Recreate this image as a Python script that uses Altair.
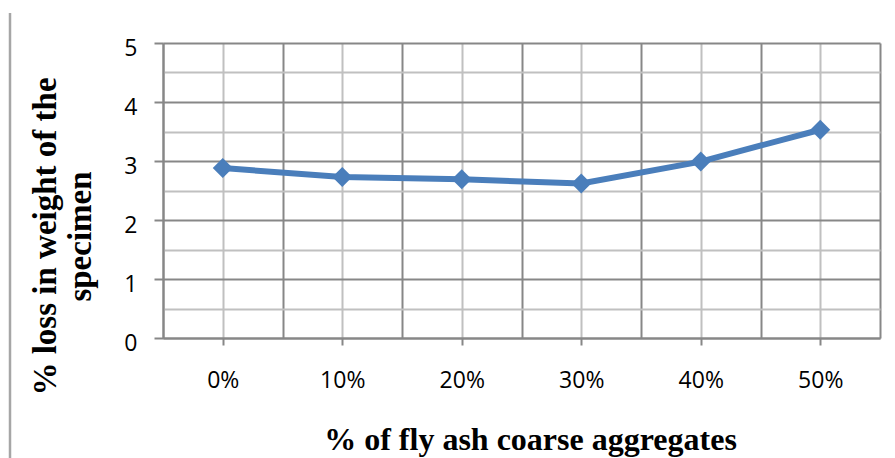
import altair as alt
import pandas as pd

categories = ["0%", "10%", "20%", "30%", "40%", "50%"]
positions = [0, 1, 2, 3, 4, 5]
loss = [2.88, 2.73, 2.69, 2.62, 2.99, 3.53]

x_ticks = [-0.5, 0, 0.5, 1, 1.5, 2, 2.5, 3, 3.5, 4, 4.5, 5, 5.5]
y_ticks = [0, 0.5, 1, 1.5, 2, 2.5, 3, 3.5, 4, 4.5, 5]

df = pd.DataFrame({"pos": positions, "cat": categories, "loss": loss})

DARK = "#878787"
LIGHT = "#c0c0c0"
cat_js = "[" + ",".join("'" + c + "'" for c in categories) + "]"

x_axis = alt.Axis(
    values=x_ticks,
    title="% of fly ash coarse aggregates",
    titleFont="Liberation Serif",
    titleFontSize=32,
    titleFontWeight="bold",
    titleColor="#000000",
    titleAlign="center",
    titleBaseline="alphabetic",
    titleX=367,
    titleY=111,
    labelExpr="datum.value % 1 === 0 ? " + cat_js + "[datum.value] : ''",
    labelFont="Open Sans",
    labelFontSize=23,
    labelColor="#000000",
    labelBaseline="alphabetic",
    labelPadding=42,
    labelFlush=False,
    labelOverlap=False,
    tickSize=7,
    tickWidth=2,
    tickColor={"condition": {"test": "datum.value % 1 !== 0", "value": "transparent"}, "value": DARK},
    grid=True,
    gridColor={"condition": {"test": "datum.value % 1 !== 0", "value": DARK}, "value": LIGHT},
    gridWidth=2,
    domainColor=DARK,
    domainWidth=2,
)

y_axis = alt.Axis(
    values=y_ticks,
    title=["% loss in weight of the", "specimen"],
    titleFont="Liberation Serif",
    titleFontSize=33,
    titleFontWeight="bold",
    titleColor="#000000",
    titleAngle=-90,
    titleAlign="center",
    titleBaseline="alphabetic",
    titleLineHeight=35,
    titleX=-108,
    titleY=193,
    labelExpr="datum.value % 1 === 0 ? datum.value : ''",
    labelFont="Open Sans",
    labelFontSize=23,
    labelColor="#000000",
    labelBaseline="middle",
    labelOffset=5,
    labelPadding=17,
    labelOverlap=False,
    labelFlush=False,
    tickSize=9,
    tickWidth=2,
    tickColor={"condition": {"test": "datum.value % 1 !== 0", "value": "transparent"}, "value": DARK},
    grid=True,
    gridColor={"condition": {"test": "datum.value % 1 === 0", "value": DARK}, "value": LIGHT},
    gridWidth=2,
    domainColor=DARK,
    domainWidth=2,
)

base = alt.Chart(df).encode(
    x=alt.X("pos:Q", scale=alt.Scale(domain=[-0.5, 5.5], nice=False, zero=False), axis=x_axis),
    y=alt.Y("loss:Q", scale=alt.Scale(domain=[0, 5], nice=False), axis=y_axis),
)

line = base.mark_line(color="#4a7ebb", strokeWidth=6)
points = base.mark_point(shape="diamond", filled=True, size=400, color="#4a7ebb", opacity=1)

border = alt.Chart(pd.DataFrame({"a": [0]})).mark_rule(color="#a6a6a6", strokeWidth=2.5).encode(
    x=alt.value(-153), y=alt.value(-30), y2=alt.value(415)
)

chart = alt.layer(line, points, border).properties(
    width=717,
    height=295,
    padding={"left": 163, "top": 43, "right": 15, "bottom": 120},
    autosize=alt.AutoSizeParams(type="none"),
    background="white",
).configure_view(stroke=None)

chart.save("out.html", embed_options={"renderer": "svg", "actions": False})
